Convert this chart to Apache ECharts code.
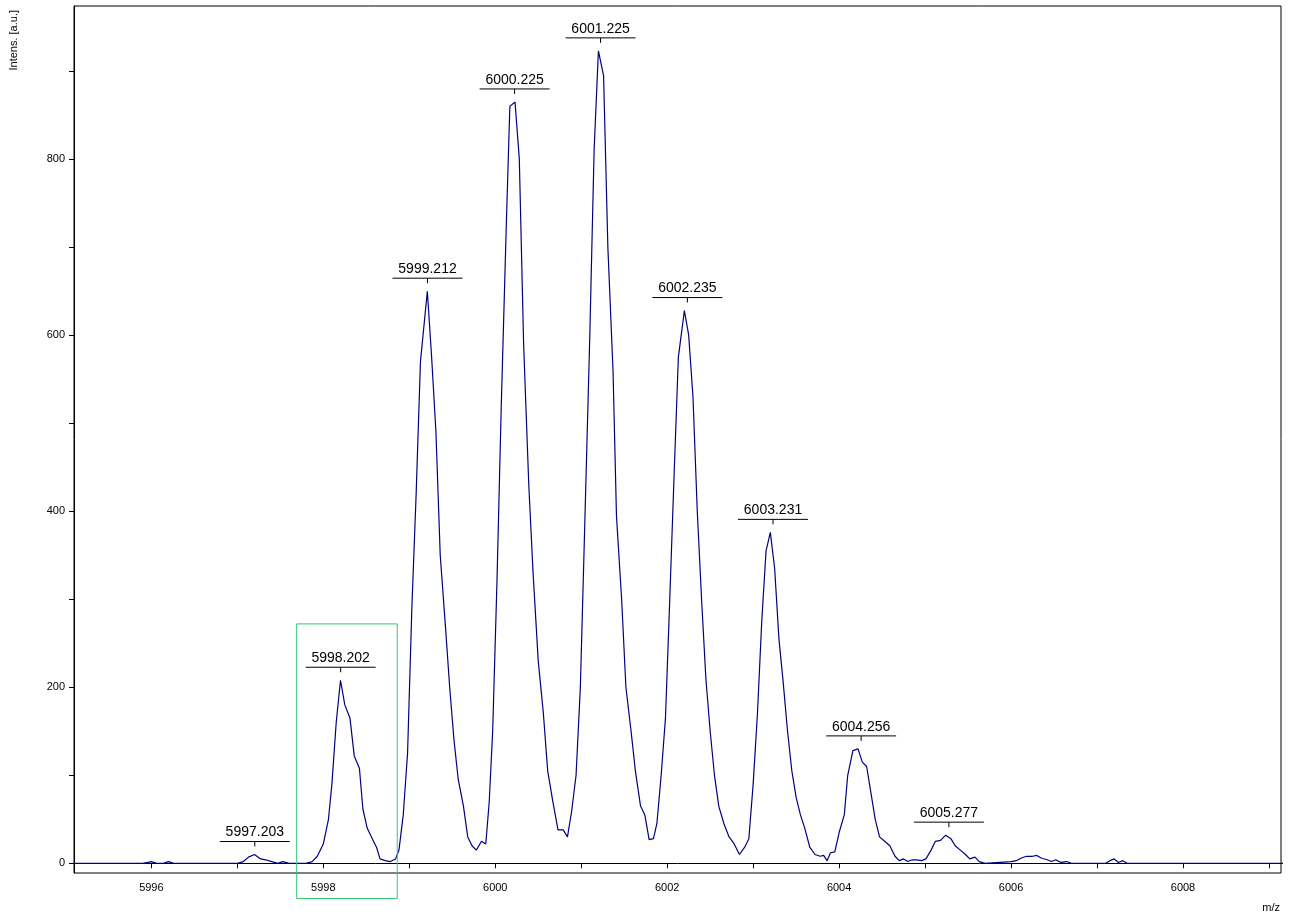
<!DOCTYPE html>
<html lang="en">
<head>
    <meta charset="UTF-8">
    <title>Spectrum</title>
    <script src="https://cdn.jsdelivr.net/npm/echarts@6/dist/echarts.min.js"></script>
</head>
<body style="margin:0">
<div id="main" style="width:1293px;height:917px;"></div>
<script type="text/javascript">
var mz = [5995.1,5995.9,5995.96,5996.0,5996.06,5996.14,5996.2,5996.26,5996.4,5997.0,5997.07,5997.13,5997.2,5997.27,5997.33,5997.4,5997.47,5997.53,5997.6,
    5997.8,5997.87,5997.93,5998.0,5998.06,5998.1,5998.15,5998.2,5998.25,5998.31,5998.36,5998.42,5998.46,5998.51,5998.57,5998.62,5998.66,5998.72,5998.78,5998.84,5998.88,5998.93,5998.98,
    5999.03,5999.08,5999.13,5999.21,5999.26,5999.31,5999.36,5999.42,5999.47,5999.52,5999.57,5999.63,5999.68,5999.73,5999.78,5999.84,5999.89,5999.93,5999.97,
    6000.02,6000.07,6000.13,6000.17,6000.23,6000.28,6000.33,6000.39,6000.44,6000.5,6000.56,6000.61,6000.67,6000.73,6000.79,6000.84,6000.89,6000.94,6000.99,
    6001.04,6001.1,6001.15,6001.2,6001.26,6001.31,6001.37,6001.41,6001.47,6001.52,6001.58,6001.63,6001.69,6001.74,6001.79,6001.84,6001.88,6001.93,6001.98,
    6002.03,6002.08,6002.13,6002.2,6002.25,6002.3,6002.35,6002.4,6002.45,6002.5,6002.55,6002.6,6002.66,6002.72,6002.78,6002.84,6002.9,6002.95,
    6003.0,6003.05,6003.1,6003.15,6003.2,6003.25,6003.3,6003.35,6003.4,6003.45,6003.5,6003.55,6003.6,6003.66,6003.72,6003.78,6003.82,6003.86,6003.9,6003.95,
    6004.0,6004.06,6004.1,6004.16,6004.22,6004.27,6004.32,6004.37,6004.42,6004.47,6004.53,6004.59,6004.65,6004.7,6004.75,6004.8,6004.85,6004.9,6004.96,
    6005.01,6005.07,6005.12,6005.18,6005.24,6005.3,6005.35,6005.41,6005.47,6005.52,6005.58,6005.63,6005.7,
    6006.0,6006.06,6006.12,6006.18,6006.25,6006.3,6006.35,6006.42,6006.47,6006.52,6006.58,6006.65,6006.7,
    6007.1,6007.15,6007.2,6007.25,6007.3,6007.35,6009.2];
var intensity = [0,0,1,2,0,0,2,0,0,0,2,7,10,5,4,2,0,2,0,
    0,2,8,22,50,90,160,208,180,165,122,108,62,40,28,18,5,3,2,5,15,55,125,
    290,420,570,650,575,490,350,270,200,140,95,65,30,20,15,25,22,70,150,
    320,520,730,860,865,800,590,430,330,230,170,105,70,38,38,30,60,100,200,
    380,600,810,923,895,700,560,395,300,200,150,105,65,55,27,28,45,100,165,
    300,440,575,628,600,530,400,300,210,150,100,65,45,30,22,10,18,28,
    90,170,275,355,376,335,255,205,150,105,75,55,40,18,10,8,9,3,12,13,
    35,55,100,128,130,115,110,80,50,30,25,20,8,3,5,2,4,4,3,
    5,15,25,26,32,28,20,15,10,5,7,2,0,
    2,3,6,8,8,9,6,4,2,4,1,2,0,
    0,3,5,1,3,0,0];

var peakMz = [5997.203,5998.202,5999.212,6000.225,6001.225,6002.235,6003.231,6004.256,6005.277];
var peakTop = [10,208,650,865,923,628,376,130,32];

var xMajor = [5996,5998,6000,6002,6004,6006,6008];
var xMinor = [5996,5997,5998,5999,6000,6001,6002,6003,6004,6005,6006,6007,6008,6009];
var yMajor = [0,200,400,600,800];
var yMinor = [0,100,200,300,400,500,600,700,800,900];

var boxMz = [5997.69,5998.86];
var boxInt = [272,-40];

var spectrum = mz.map(function (m, i) { return [m, intensity[i]]; });
var peaks = peakMz.map(function (m, i) { return [m, peakTop[i], m.toFixed(3)]; });

var myChart = echarts.init(document.getElementById('main'));
var font = 'Liberation Sans, Arial, sans-serif';

var option = {
    animation: false,
    backgroundColor: '#fff',
    grid: {left: 74, right: 12, top: 6, bottom: 44, show: true, borderColor: '#000', borderWidth: 1},
    xAxis: {
        type: 'value', min: 5995.1, max: 6009.14,
        axisLine: {lineStyle: {color: '#000'}},
        axisTick: {customValues: xMinor, length: 5, lineStyle: {color: '#000'}},
        axisLabel: {customValues: xMajor, color: '#000', fontFamily: font, fontSize: 11, margin: 9,
            formatter: function (v) { return String(v); }},
        splitLine: {show: false}
    },
    yAxis: {
        type: 'value', min: -11, max: 974,
        axisLine: {show: true, lineStyle: {color: '#000'}},
        axisTick: {show: true, customValues: yMinor, length: 5, lineStyle: {color: '#000'}},
        axisLabel: {customValues: yMajor, color: '#000', fontFamily: font, fontSize: 11, margin: 9,
            formatter: function (v) { return String(v); }},
        splitLine: {show: false}
    },
    graphic: [
        {id: 'ylab', type: 'text', left: 8, top: 10, rotation: Math.PI / 2, style: {text: 'Intens. [a.u.]', fill: '#000', font: '11px ' + font}},
        {id: 'xlab', type: 'text', right: 13, bottom: 4, style: {text: 'm/z', fill: '#000', font: '11px ' + font}}
    ],
    series: [
        {
            type: 'line', data: spectrum, symbol: 'none',
            lineStyle: {color: '#000080', width: 1.2}
        },
        {
            type: 'custom', data: peaks, clip: false, z: 5,
            renderItem: function (params, api) {
                var p = api.coord([api.value(0), api.value(1)]);
                var x = p[0], y = p[1] - 8;
                return {
                    type: 'group', children: [
                        {type: 'line', shape: {x1: x, y1: y, x2: x, y2: y - 5}, style: {stroke: '#000', lineWidth: 1}},
                        {type: 'line', shape: {x1: x - 35, y1: y - 5, x2: x + 35, y2: y - 5}, style: {stroke: '#000', lineWidth: 1}},
                        {type: 'text', x: x, y: y - 7, style: {text: api.value(2), fill: '#000', font: '14px ' + font, textAlign: 'center', textVerticalAlign: 'bottom'}}
                    ]
                };
            }
        }
    ]
};
myChart.setOption(option);

var a = myChart.convertToPixel({gridIndex: 0}, [boxMz[0], boxInt[0]]);
var b = myChart.convertToPixel({gridIndex: 0}, [boxMz[1], boxInt[1]]);
myChart.setOption({
    graphic: [{id: 'box', type: 'rect', shape: {x: a[0], y: a[1], width: b[0] - a[0], height: b[1] - a[1]},
        style: {fill: 'none', stroke: '#2ecc71', lineWidth: 1}, z: 10}]
});
</script>
</body>
</html>
